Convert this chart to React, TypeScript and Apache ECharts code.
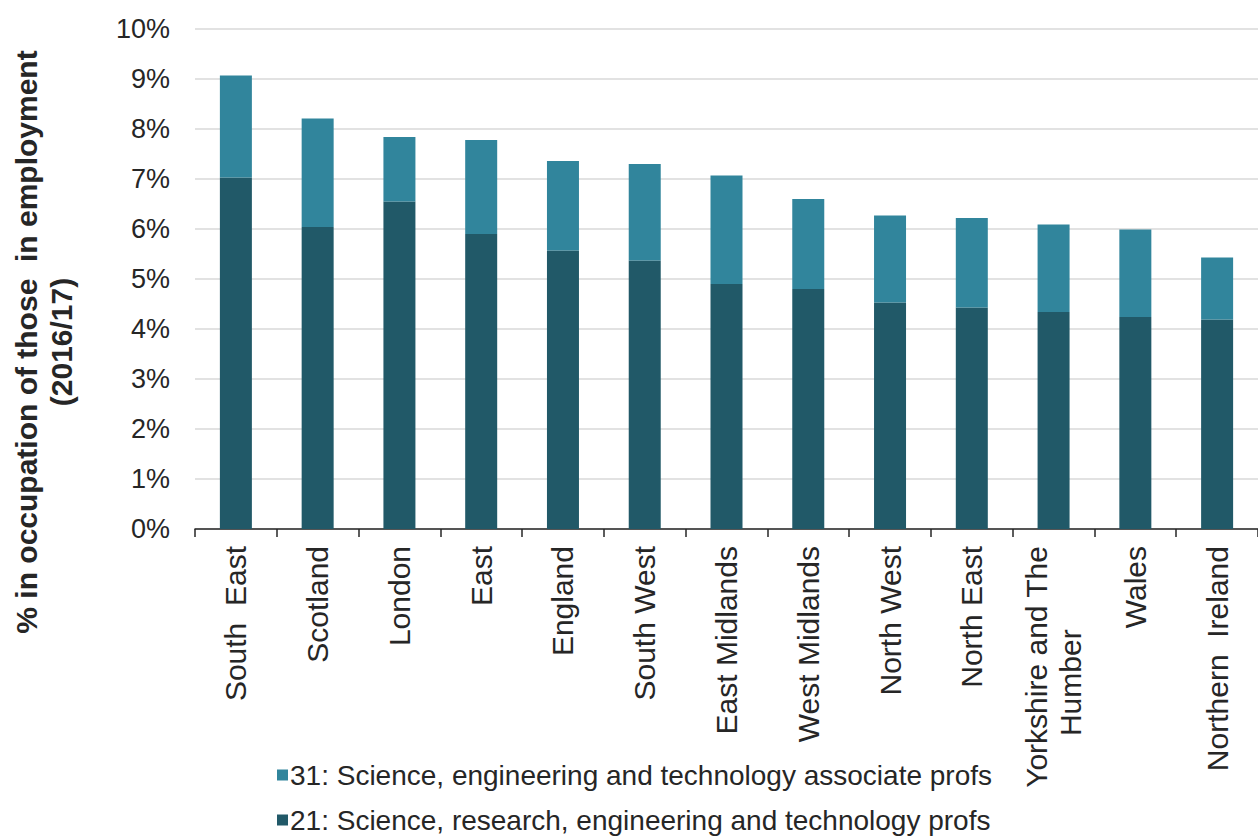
import React, { useEffect, useRef } from "react";
import * as echarts from "echarts";

const categories = [
  "South  East",
  "Scotland",
  "London",
  "East",
  "England",
  "South West",
  "East Midlands",
  "West Midlands",
  "North West",
  "North East",
  "Yorkshire and The\nHumber          ",
  "Wales",
  "Northern  Ireland",
];

// 21: Science, research, engineering and technology profs (bottom segment, %)
const profs21 = [7.03, 6.04, 6.55, 5.9, 5.57, 5.37, 4.9, 4.8, 4.53, 4.43, 4.34, 4.24, 4.19];
// 31: Science, engineering and technology associate profs (top segment, %)
const assoc31 = [2.04, 2.17, 1.29, 1.88, 1.79, 1.93, 2.17, 1.8, 1.74, 1.79, 1.75, 1.75, 1.24];

const yTicks = { min: 0, max: 10, interval: 1 };

const name21 = "21: Science, research, engineering and technology profs";
const name31 = "31: Science, engineering and technology associate profs";

const DARK = "#215968";
const LIGHT = "#31859C";
const FONT = "'Liberation Sans', Arial, sans-serif";

const legendBase = {
  orient: "horizontal",
  left: 272,
  itemWidth: 11,
  itemHeight: 11,
  icon: "rect",
  textStyle: { fontSize: 28, color: "#262626", fontFamily: FONT, padding: [0, 0, 0, -3] },
};

export default function App() {
  const ref = useRef<HTMLDivElement>(null);
  useEffect(() => {
    document.body.style.margin = "0";
    const chart = echarts.init(ref.current!, null, { renderer: "svg" });
    chart.setOption({
      animation: false,
      backgroundColor: "#ffffff",
      textStyle: { fontFamily: FONT },
      grid: { left: 195, right: -9, top: 29, bottom: 310, containLabel: false },
      legend: [
        { ...legendBase, top: 756, data: [name31] },
        { ...legendBase, top: 801, data: [name21] },
      ],
      xAxis: {
        type: "category",
        data: categories,
        axisLine: { lineStyle: { color: "#262626", width: 1.5 } },
        axisTick: { show: true, length: 8, lineStyle: { color: "#262626", width: 1.5 } },
        axisLabel: {
          rotate: 90,
          interval: 0,
          margin: 17,
          fontSize: 30,
          lineHeight: 34,
          color: "#262626",
          fontFamily: FONT,
        },
      },
      yAxis: {
        type: "value",
        min: yTicks.min,
        max: yTicks.max,
        interval: yTicks.interval,
        axisLine: { show: false },
        axisTick: { show: false },
        splitLine: { lineStyle: { color: "#d9d9d9", width: 1.5 } },
        axisLabel: {
          formatter: "{value}%",
          fontSize: 27,
          margin: 25,
          color: "#262626",
          fontFamily: FONT,
        },
      },
      graphic: [
        {
          type: "text",
          x: 44,
          y: 342,
          rotation: Math.PI / 2,
          style: {
            text: "% in occupation of those  in employment\n(2016/17)",
            font: "bold 30px " + FONT,
            fill: "#262626",
            align: "center",
            verticalAlign: "middle",
            lineHeight: 35,
          },
        },
      ],
      series: [
        {
          name: name21,
          type: "bar",
          stack: "total",
          barWidth: 32,
          itemStyle: { color: DARK },
          data: profs21,
        },
        {
          name: name31,
          type: "bar",
          stack: "total",
          barWidth: 32,
          itemStyle: { color: LIGHT },
          data: assoc31,
        },
      ],
    });
    return () => chart.dispose();
  }, []);
  return <div ref={ref} style={{ width: 1258, height: 839 }} />;
}
